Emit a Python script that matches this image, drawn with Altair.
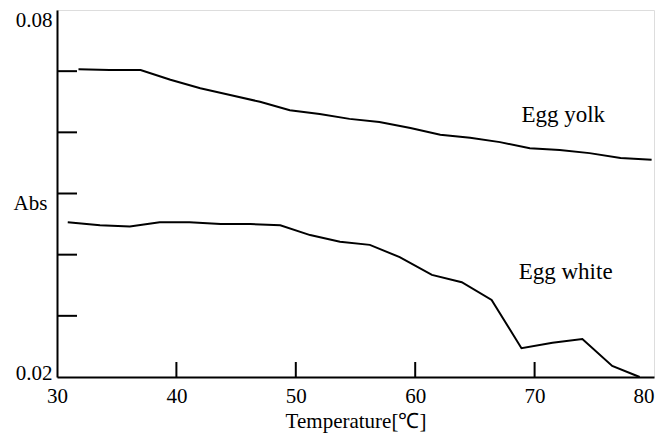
import altair as alt
import pandas as pd

yolk_t = [31.8, 34.4, 37.0, 39.5, 42.0, 44.5, 47.0, 49.5, 52.0, 54.5, 57.0, 59.6, 62.1, 64.6, 67.1, 69.6, 72.1, 74.6, 77.2, 79.8]
yolk_v = [0.0703, 0.0702, 0.0702, 0.0686, 0.0672, 0.0661, 0.0650, 0.0636, 0.0630, 0.0622, 0.0617, 0.0607, 0.0596, 0.0591, 0.0584, 0.0574, 0.0571, 0.0566, 0.0558, 0.0555]

white_t = [30.9, 33.6, 36.1, 38.6, 41.1, 43.7, 46.2, 48.7, 51.2, 53.7, 56.2, 58.7, 61.4, 63.9, 66.4, 68.9, 71.5, 74.0, 76.5, 78.8]
white_v = [0.0453, 0.0448, 0.0446, 0.0453, 0.0453, 0.0450, 0.0450, 0.0448, 0.0432, 0.0421, 0.0416, 0.0396, 0.0367, 0.0355, 0.0326, 0.0247, 0.0256, 0.0262, 0.0218, 0.0200]

label_names = ["Egg yolk", "Egg white"]
label_t = [72.4, 72.6]
label_v = [0.0628, 0.0372]

y_ticks = [0.03, 0.04, 0.05, 0.06, 0.07]
x_ticks = [40, 50, 60, 70]

df = pd.concat([
    pd.DataFrame({"t": yolk_t, "v": yolk_v, "s": "Egg yolk"}),
    pd.DataFrame({"t": white_t, "v": white_v, "s": "Egg white"}),
])
labels = pd.DataFrame({"name": label_names, "t": label_t, "v": label_v})
yt = pd.DataFrame({"v": y_ticks})
xt = pd.DataFrame({"t": x_ticks})

FONT = "Liberation Serif"
W, H = 597, 367

xscale = alt.Scale(domain=[30, 80], nice=False, zero=False)
yscale = alt.Scale(domain=[0.02, 0.08], nice=False, zero=False)

xaxis = alt.Axis(
    values=[30, 40, 50, 60, 70, 80], title="Temperature[℃]", ticks=False,
    grid=False, domainColor="black", domainWidth=2, labelFont=FONT,
    labelFontSize=21, labelColor="black", labelPadding=8,
    labelAlign={"condition": {"test": "datum.value >= 80", "value": "right"}, "value": "center"},
    titleFont=FONT, titleFontSize=21, titleFontWeight="normal",
    titleColor="black", titlePadding=4,
)
yaxis = alt.Axis(
    values=[0.02, 0.05, 0.08], ticks=False, grid=False, domainColor="black",
    domainWidth=2, labelFont=FONT, labelFontSize=21, labelColor="black",
    labelPadding=5,
    labelExpr="datum.value == 0.05 ? '' : format(datum.value, '.2f')",
    labelBaseline="middle",
    labelOffset={"condition": {"test": "datum.value > 0.05", "value": 10}, "value": -4},
    title="Abs", titleAngle=0, titleFont=FONT, titleFontSize=21,
    titleFontWeight="normal", titleColor="black", titleAlign="center",
    titleBaseline="middle", titleX=-27, titleY=193,
)

lines = alt.Chart(df).mark_line(color="black", strokeWidth=2).encode(
    x=alt.X("t:Q", scale=xscale, axis=xaxis),
    y=alt.Y("v:Q", scale=yscale, axis=yaxis),
    detail="s:N",
)

ytick_marks = alt.Chart(yt).mark_rule(color="black", strokeWidth=2).encode(
    y=alt.Y("v:Q", scale=yscale), x=alt.value(0), x2=alt.value(20)
)
xtick_marks = alt.Chart(xt).mark_rule(color="black", strokeWidth=2).encode(
    x=alt.X("t:Q", scale=xscale), y=alt.value(H), y2=alt.value(H - 15)
)

text = alt.Chart(labels).mark_text(
    font=FONT, fontSize=23, color="black", align="center", baseline="middle"
).encode(
    x=alt.X("t:Q", scale=xscale), y=alt.Y("v:Q", scale=yscale), text="name:N"
)

chart = alt.layer(lines, ytick_marks, xtick_marks, text).properties(
    width=W, height=H,
    autosize=alt.AutoSizeParams(type="none"),
    padding={"left": 49, "top": 2, "right": 1, "bottom": 56},
).configure_view(stroke="black", strokeWidth=1.5).configure(background="white")

chart.save("out.html", embed_options={"renderer": "svg", "actions": False})
